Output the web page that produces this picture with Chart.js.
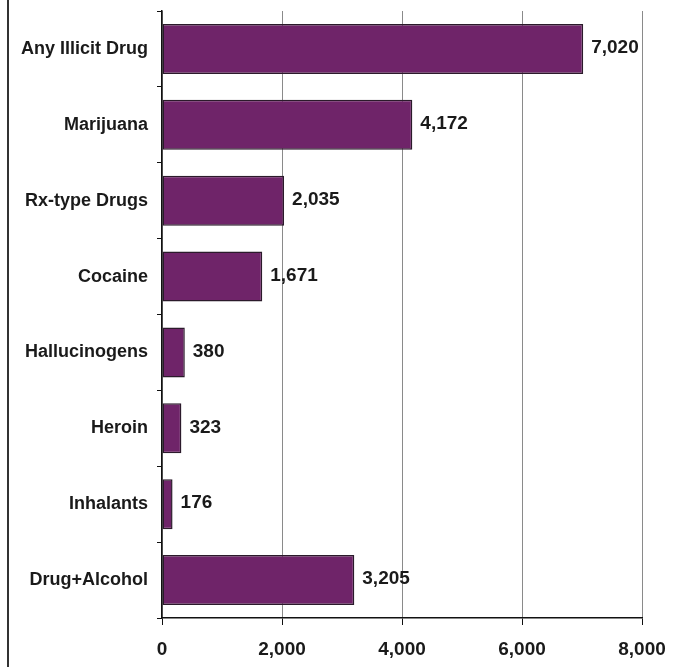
<!DOCTYPE html>
<html>
<head>
<meta charset="utf-8">
<script src="https://cdn.jsdelivr.net/npm/chart.js@4.4.1/dist/chart.umd.min.js"></script>
<style>
  html, body { margin: 0; padding: 0; background: #fff; }
  #wrap { position: relative; width: 680px; height: 667px; }
</style>
</head>
<body>
<div id="wrap"><canvas id="drugChart"></canvas></div>
<script>
const categories = ['Any Illicit Drug', 'Marijuana', 'Rx-type Drugs', 'Cocaine', 'Hallucinogens', 'Heroin', 'Inhalants', 'Drug+Alcohol'];
const values = [7020, 4172, 2035, 1671, 380, 323, 176, 3205];
const xTicks = [0, 2000, 4000, 6000, 8000];

const fmt = v => v.toLocaleString('en-US');

// value labels at the end of each bar
const barLabels = {
    id: 'barLabels',
    afterDatasetsDraw(chart) {
        const ctx = chart.ctx;
        const meta = chart.getDatasetMeta(0);
        ctx.save();
        ctx.font = 'bold 19px "Liberation Sans", Arial, sans-serif';
        ctx.fillStyle = '#1a1a1a';
        ctx.textAlign = 'left';
        ctx.textBaseline = 'middle';
        meta.data.forEach((bar, i) => {
            ctx.fillText(fmt(values[i]), bar.x + 8, bar.y - 1);
        });
        ctx.restore();
    }
};

// the frame line on the left edge of the picture
const leftFrame = {
    id: 'leftFrame',
    beforeDraw(chart) {
        const ctx = chart.ctx;
        ctx.save();
        ctx.strokeStyle = '#333';
        ctx.lineWidth = 2;
        ctx.beginPath();
        ctx.moveTo(8, 0);
        ctx.lineTo(8, chart.height);
        ctx.stroke();
        ctx.restore();
    }
};

new Chart(document.getElementById('drugChart'), {
    type: 'bar',
    data: {
        labels: categories,
        datasets: [{
            data: values,
            backgroundColor: '#6f2469',
            borderColor: '#2b1a2b',
            borderWidth: 1.5,
            borderSkipped: false,
            barPercentage: 0.66,
            categoryPercentage: 1
        }]
    },
    options: {
        indexAxis: 'y',
        responsive: true,
        maintainAspectRatio: false,
        animation: false,
        layout: { padding: { top: 11, right: 38, left: 0, bottom: 0 } },
        plugins: {
            legend: { display: false },
            tooltip: { enabled: false }
        },
        scales: {
            x: {
                min: 0,
                max: 8000,
                afterBuildTicks: scale => { scale.ticks = xTicks.map(v => ({ value: v })); },
                afterFit: scale => { scale.height = 49; scale.paddingLeft = 0; scale.paddingRight = 0; },
                grid: { color: '#8a8a8a', lineWidth: 1, tickColor: '#111', tickLength: 7 },
                border: { color: '#111', width: 1.5 },
                ticks: {
                    padding: 13,
                    color: '#1a1a1a',
                    font: { family: '"Liberation Sans", Arial, sans-serif', size: 19, weight: 'bold' },
                    callback: v => fmt(v)
                }
            },
            y: {
                afterFit: scale => { scale.width = 162; scale.paddingTop = 0; scale.paddingBottom = 0; },
                grid: { offset: true, drawOnChartArea: false, tickColor: '#111', tickLength: 5 },
                border: { color: '#111', width: 1.5 },
                ticks: {
                    padding: 9,
                    color: '#1a1a1a',
                    font: { family: '"Liberation Sans", Arial, sans-serif', size: 18, weight: 'bold' }
                }
            }
        }
    },
    plugins: [barLabels, leftFrame]
});
</script>
</body>
</html>
